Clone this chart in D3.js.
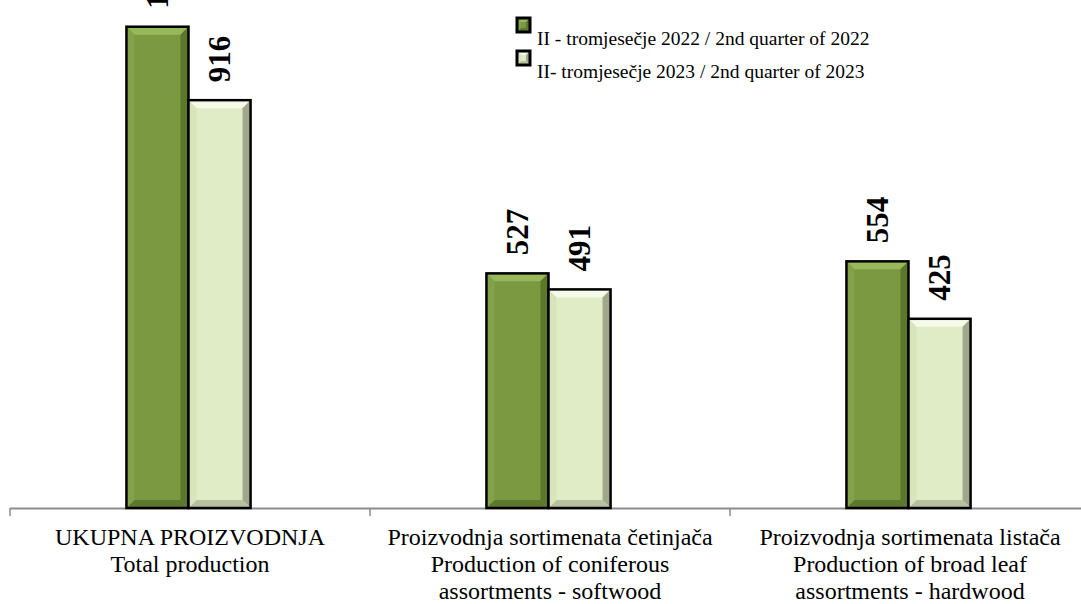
<!DOCTYPE html>
<html>
<head>
<meta charset="utf-8">
<script src="https://cdn.jsdelivr.net/npm/d3@7/dist/d3.min.js"></script>
<style>
  html, body { margin: 0; padding: 0; background: #fff; }
  svg { display: block; }
</style>
</head>
<body>
<svg id="chart" width="1081" height="604"></svg>
<script>
// ---- data ----
const categories = [
  ["UKUPNA PROIZVODNJA", "Total production"],
  ["Proizvodnja sortimenata četinjača", "Production of coniferous", "assortments - softwood"],
  ["Proizvodnja sortimenata listača", "Production of broad leaf", "assortments - hardwood"]
];
const categoryKeys = ["total", "conifer", "broadleaf"];
const seriesNames = ["II - tromjesečje 2022 / 2nd quarter of 2022", "II- tromjesečje 2023 / 2nd quarter of 2023"];
const values2022 = [1081, 527, 554];
const values2023 = [916, 491, 425];

// ---- styles ----
const palettes = [
  { face: "#7a9940", top: "#98b85c", left: "#82a148", right: "#5c762a", bottom: "#5f7830" },
  { face: "#e0ecc6", top: "#f5faeb", left: "#d8e4bb", right: "#9fa88a", bottom: "#b8c2a0" }
];

const svg = d3.select("#chart");
const baseY = 508;

const x0 = d3.scaleBand().domain(categoryKeys).range([10, 1090]).paddingInner(0).paddingOuter(0);
const x1 = d3.scaleBand().domain([0, 1]).range([-1.5, x0.bandwidth() - 1.5]).paddingInner(0).paddingOuter(1.9);
const y = d3.scaleLinear().domain([0, 1141]).range([baseY, 0]);

const seriesData = [values2022, values2023];

function bevelBar(g, x, yTop, w, h, pal, b, sw) {
  const x2 = x + w, y2 = yTop + h;
  const bb = Math.min(b, h / 2, w / 2);
  const polys = [
    { pts: [[x, yTop], [x2, yTop], [x2 - bb, yTop + bb], [x + bb, yTop + bb]], c: pal.top },
    { pts: [[x2, yTop], [x2, y2], [x2 - bb, y2 - bb], [x2 - bb, yTop + bb]], c: pal.right },
    { pts: [[x, y2], [x2, y2], [x2 - bb, y2 - bb], [x + bb, y2 - bb]], c: pal.bottom },
    { pts: [[x, yTop], [x + bb, yTop + bb], [x + bb, y2 - bb], [x, y2]], c: pal.left }
  ];
  g.append("rect").attr("x", x).attr("y", yTop).attr("width", w).attr("height", h).attr("fill", pal.face);
  polys.forEach(p => {
    g.append("polygon").attr("points", p.pts.map(d => d.join(",")).join(" ")).attr("fill", p.c);
  });
  g.append("rect").attr("x", x).attr("y", yTop).attr("width", w).attr("height", h)
    .attr("fill", "none").attr("stroke", "#000").attr("stroke-width", sw);
}

// axis
const axisG = svg.append("g");
axisG.append("line").attr("x1", 10).attr("x2", 1081).attr("y1", baseY + 0.5).attr("y2", baseY + 0.5)
  .attr("stroke", "#8c8c8c").attr("stroke-width", 2);
const tickXs = categoryKeys.map(k => x0(k)).concat([x0.range()[1]]);
tickXs.forEach(tx => {
  axisG.append("line").attr("x1", tx).attr("x2", tx).attr("y1", baseY).attr("y2", baseY + 8)
    .attr("stroke", "#8c8c8c").attr("stroke-width", 1.5);
});

// bars
const barsG = svg.append("g");
seriesData.forEach((vals, si) => {
  vals.forEach((v, ci) => {
    const bx = x0(categoryKeys[ci]) + x1(si);
    const w = x1.bandwidth();
    const yt = y(v);
    bevelBar(barsG, bx, yt, w, y(0) - yt, palettes[si], 8, 2.5);
  });
});

// value labels
seriesData.forEach((vals, si) => {
  vals.forEach((v, ci) => {
    const cx = x0(categoryKeys[ci]) + x1(si) + x1.bandwidth() / 2;
    const ty = y(v) - 18;
    svg.append("text")
      .attr("transform", `translate(${cx},${ty}) rotate(-90)`)
      .attr("dy", "0.34em")
      .attr("text-anchor", "start")
      .attr("font-family", "'Liberation Serif', 'Times New Roman', serif")
      .attr("font-weight", "bold")
      .attr("font-size", 31)
      .attr("fill", "#000")
      .text(v);
  });
});

// category labels
categories.forEach((lines, ci) => {
  const cx = x0(categoryKeys[ci]) + x0.bandwidth() / 2;
  const t = svg.append("text")
    .attr("text-anchor", "middle")
    .attr("font-family", "'Liberation Serif', 'Times New Roman', serif")
    .attr("font-size", 24)
    .attr("fill", "#000");
  lines.forEach((ln, li) => {
    t.append("tspan").attr("x", cx).attr("y", 545 + li * 27).text(ln);
  });
});

// legend
const legendG = svg.append("g");
seriesNames.forEach((name, si) => {
  const ly = 18 + si * 33;
  bevelBar(legendG, 517, ly, 13, 14, palettes[si], 4, 3);
  legendG.append("text")
    .attr("x", 537).attr("y", ly + 27)
    .attr("font-family", "'Liberation Serif', 'Times New Roman', serif")
    .attr("font-size", 19.5)
    .attr("fill", "#000")
    .text(name);
});
</script>
</body>
</html>
